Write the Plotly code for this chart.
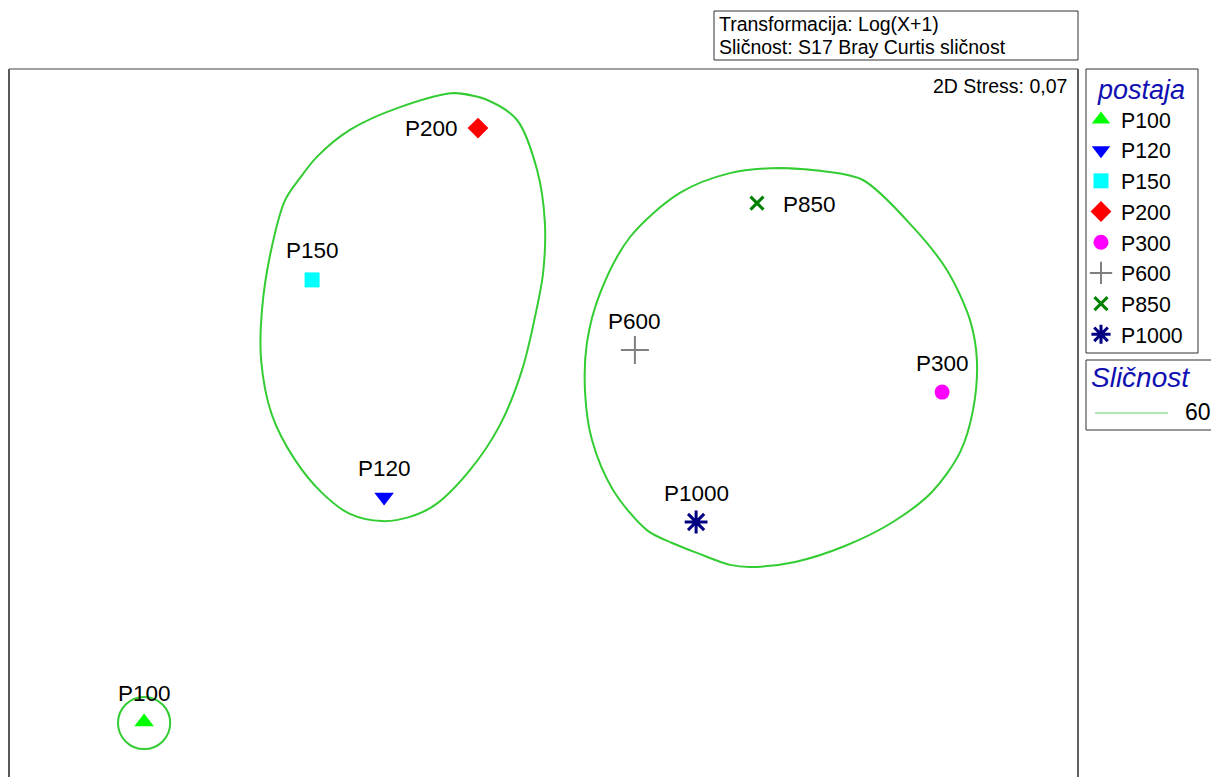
import plotly.graph_objects as go

# ---------------- data (nMDS coordinates) ----------------
stations = ["P100", "P120", "P150", "P200", "P300", "P600", "P850", "P1000"]
mds_x = [-1.333, -0.533, -0.773, -0.220, 1.327, 0.303, 0.710, 0.507]
mds_y = [-0.997, -0.247, 0.477, 0.983, 0.103, 0.243, 0.733, -0.330]

# similarity (60 %) contours
contour_a_x = [-0.297, -0.197, -0.090, -0.023, 0.003, -0.003, -0.023, -0.073, -0.147, -0.247,
               -0.363, -0.447, -0.540, -0.647, -0.740, -0.830, -0.907, -0.943, -0.940, -0.913,
               -0.863, -0.813, -0.757, -0.647, -0.480]
contour_a_y = [1.100, 1.080, 1.010, 0.843, 0.667, 0.500, 0.387, 0.177, -0.007, -0.157,
               -0.273, -0.313, -0.327, -0.303, -0.233, -0.123, 0.027, 0.210, 0.377, 0.560,
               0.743, 0.817, 0.887, 0.977, 1.053]
contour_b_x = [0.787, 0.927, 1.063, 1.230, 1.343, 1.420, 1.443, 1.430, 1.387, 1.293,
               1.163, 1.003, 0.837, 0.687, 0.620, 0.510, 0.427, 0.343, 0.230, 0.160, 0.137,
               0.143, 0.187, 0.287, 0.453, 0.620]
contour_b_y = [0.850, 0.840, 0.810, 0.653, 0.510, 0.343, 0.210, 0.043, -0.097, -0.230,
               -0.330, -0.410, -0.463, -0.480, -0.473, -0.433, -0.400, -0.357, -0.223, -0.057, 0.100,
               0.267, 0.433, 0.620, 0.767, 0.833]
contour_c_center = (-1.333, -1.000)
contour_c_radius = 0.087
similarity_level = "60"

# ---------------- styles ----------------
FONT = "Liberation Sans, Arial, sans-serif"
symbols = ["triangle-up", "triangle-down", "square", "diamond", "circle", "cross-thin", "x-thin", "asterisk"]
colors = ["#00FF00", "#0000FF", "#00FFFF", "#FF0000", "#FF00FF", "#808080", "#008000", "#000080"]
sizes = [17, 17, 15, 16, 15, 20, 13, 19]
line_w = [0, 0, 0, 0, 0, 2, 3, 3]
label_shift = {"P200": (-47, 0), "P850": (52, -1)}
CONTOUR_COLOR = "#33CC33"
BLUE = "#1010B0"

# page body has an 8px margin: figure coordinates = reference pixels - 8
OFF = 8
W, H = 1219 - OFF, 777 - OFF
PL, PR, PT, PB = 9, 1078, 69, 777   # plot area in reference pixels
L, T = PL - OFF, PT - OFF
R, B = W - (PR - OFF), 0
pw, ph = PR - PL, PB - PT


def px(x):
    return (x - PL) / pw


def py(y):
    return (PB - y) / ph


fig = go.Figure()

# contours
for cx, cy in [(contour_a_x, contour_a_y), (contour_b_x, contour_b_y)]:
    fig.add_trace(go.Scatter(x=cx + cx[:2], y=cy + cy[:2], mode="lines",
                             line=dict(color=CONTOUR_COLOR, width=2, shape="spline", smoothing=0.9),
                             showlegend=False, hoverinfo="skip"))
fig.add_shape(type="circle", xref="x", yref="y",
              x0=contour_c_center[0] - contour_c_radius, x1=contour_c_center[0] + contour_c_radius,
              y0=contour_c_center[1] - contour_c_radius, y1=contour_c_center[1] + contour_c_radius,
              line=dict(color=CONTOUR_COLOR, width=2))

# points
for i, name in enumerate(stations):
    fig.add_trace(go.Scatter(
        x=[mds_x[i]], y=[mds_y[i]], mode="markers", name=name,
        marker=dict(symbol=symbols[i], color=colors[i], size=sizes[i],
                    line=dict(color=colors[i], width=line_w[i])),
    ))
    dx, dy = label_shift.get(name, (0, 29))
    fig.add_annotation(x=mds_x[i], y=mds_y[i], text=name, showarrow=False,
                       xshift=dx, yshift=dy, xanchor="center", yanchor="middle",
                       font=dict(family=FONT, size=22.5, color="#000000"))

# frame of plot area (open at bottom)
fig.add_shape(type="line", xref="paper", yref="paper", x0=0, x1=0, y0=0, y1=1,
              line=dict(color="#202020", width=1.5))
fig.add_shape(type="line", xref="paper", yref="paper", x0=0, x1=1, y0=1, y1=1,
              line=dict(color="#808080", width=1.5))
fig.add_shape(type="line", xref="paper", yref="paper", x0=1, x1=1, y0=0, y1=1,
              line=dict(color="#606060", width=2))

# info box
fig.add_shape(type="rect", xref="paper", yref="paper",
              x0=px(714), x1=px(1078), y0=py(60), y1=py(11),
              line=dict(color="#303030", width=1), fillcolor="white")
fig.add_annotation(xref="paper", yref="paper", x=px(717), y=py(24), text="Transformacija: Log(X+1)",
                   showarrow=False, xanchor="left", yanchor="middle",
                   font=dict(family=FONT, size=19.5, color="#000000"))
fig.add_annotation(xref="paper", yref="paper", x=px(717), y=py(47), text="Sličnost: S17 Bray Curtis sličnost",
                   showarrow=False, xanchor="left", yanchor="middle",
                   font=dict(family=FONT, size=19.5, color="#000000"))
fig.add_annotation(xref="paper", yref="paper", x=px(1069), y=py(86), text="2D Stress: 0,07",
                   showarrow=False, xanchor="right", yanchor="middle",
                   font=dict(family=FONT, size=19.5, color="#000000"))

# station legend box (legend itself drawn by plotly without border)
fig.add_shape(type="rect", xref="paper", yref="paper",
              x0=px(1086), x1=px(1198), y0=py(353), y1=py(69),
              line=dict(color="#303030", width=1))

# similarity legend box
fig.add_shape(type="rect", xref="paper", yref="paper",
              x0=px(1086), x1=px(1218), y0=py(430), y1=py(360),
              line=dict(color="#303030", width=1))
fig.add_annotation(xref="paper", yref="paper", x=px(1089), y=py(377), text="<i>Sličnost</i>",
                   showarrow=False, xanchor="left", yanchor="middle",
                   font=dict(family=FONT, size=28, color=BLUE))
fig.add_shape(type="line", xref="paper", yref="paper", x0=px(1095), x1=px(1168), y0=py(413), y1=py(413),
              line=dict(color="#66CC66", width=1))
fig.add_annotation(xref="paper", yref="paper", x=px(1213), y=py(412), text=similarity_level,
                   showarrow=False, xanchor="right", yanchor="middle",
                   font=dict(family=FONT, size=23, color="#000000"))

fig.update_layout(
    width=W, height=H,
    margin=dict(l=L, r=R, t=T, b=B, pad=0),
    paper_bgcolor="white", plot_bgcolor="white",
    xaxis=dict(range=[(PL - 544) / 300, (PR - 544) / 300], showgrid=False, zeroline=False,
               showticklabels=False, ticks="", showline=False, fixedrange=True),
    yaxis=dict(range=[(423 - PB) / 300, (423 - PT) / 300], showgrid=False, zeroline=False,
               showticklabels=False, ticks="", showline=False, fixedrange=True),
    legend=dict(
        x=px(1081), y=py(64), xanchor="left", yanchor="top",
        borderwidth=0, bgcolor="rgba(0,0,0,0)",
        font=dict(family=FONT, size=21.3, color="#000000"),
        title=dict(text="postaja", side="top right",
                   font=dict(family=FONT, size=27, color=BLUE, style="italic")),
        tracegroupgap=0, itemwidth=30,
    ),
    showlegend=True,
)

fig.write_html("out.html")
